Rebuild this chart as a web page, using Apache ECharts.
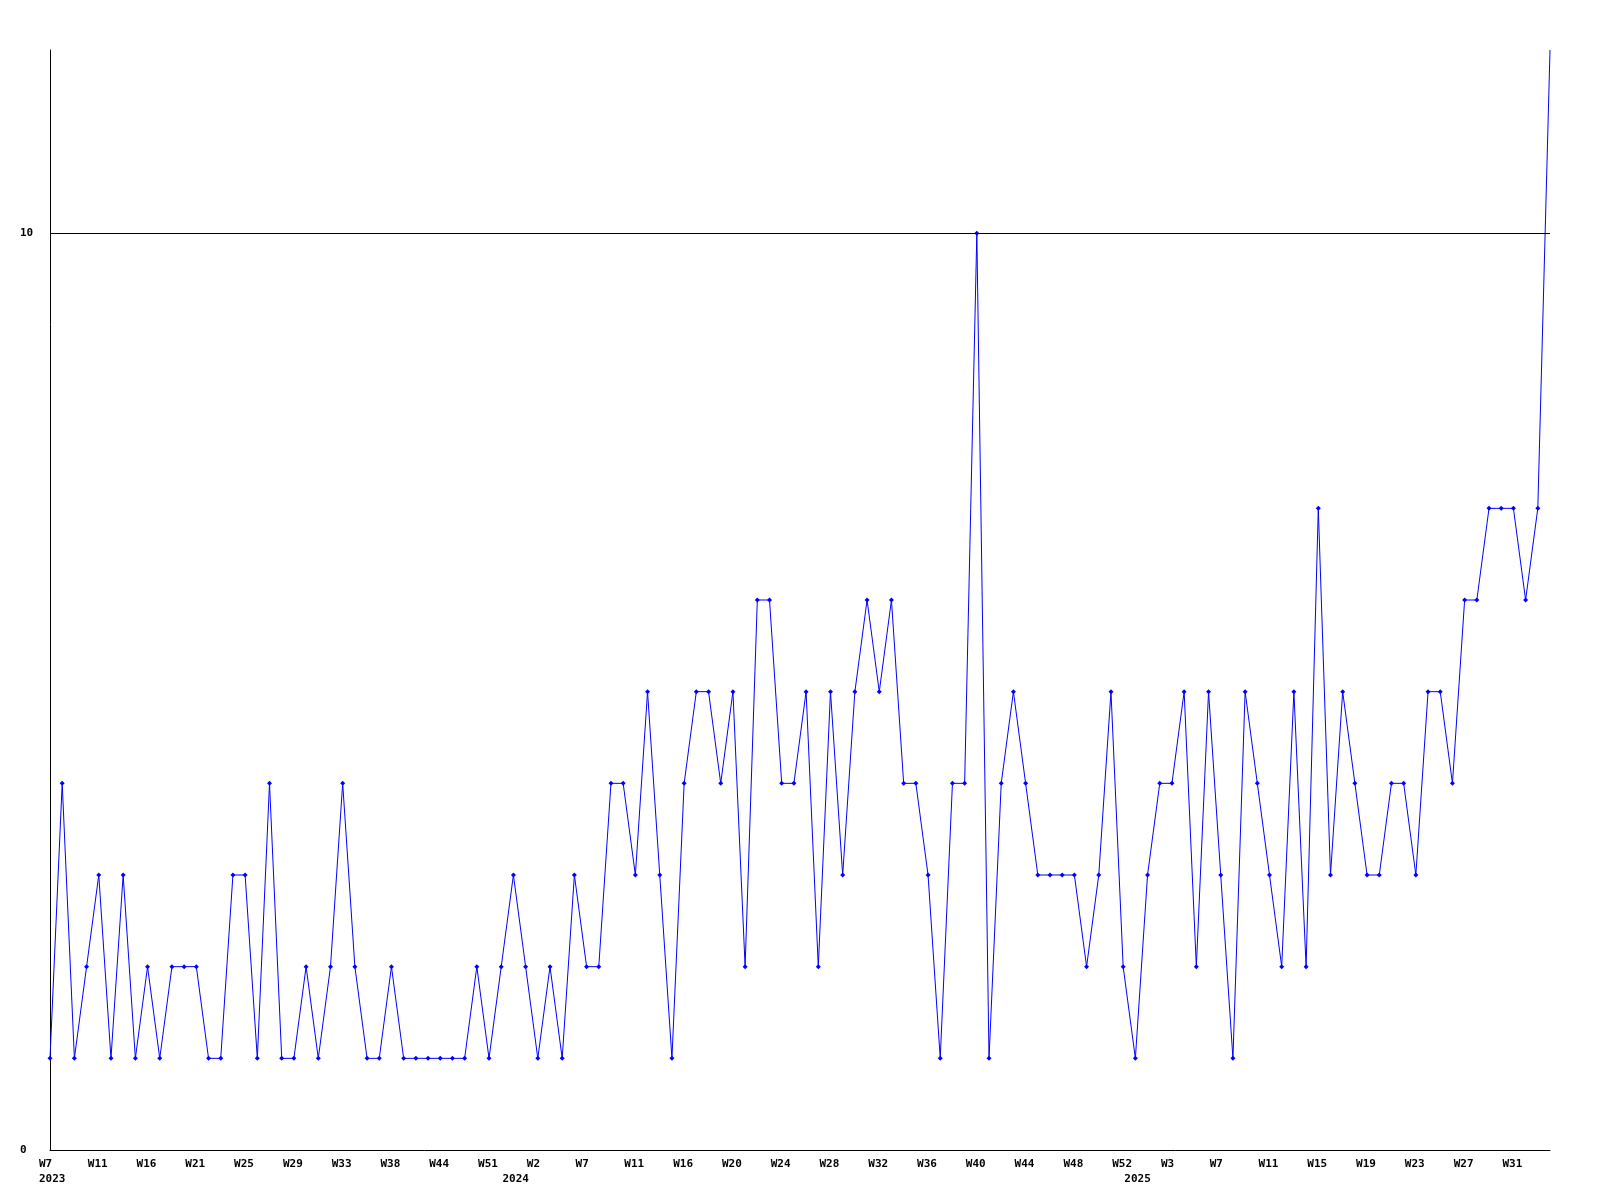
<!DOCTYPE html>
<html>
<head>
<meta charset="utf-8">
<script src="https://cdn.jsdelivr.net/npm/echarts@6/dist/echarts.min.js"></script>
<style>
html,body{margin:0;padding:0;background:#fff;}
#chart{width:1600px;height:1200px;}
</style>
</head>
<body>
<div id="chart"></div>
<script>
// Week numbers present in the data, per year
const weeks2023 = [7,8,9,10,11,12,13,15,16,17,18,20,21,22,23,24,25,26,27,28,29,30,31,32,33,34,35,37,38,39,41,43,44,45,47,49,51,52];
const weeks2024 = [0,1,2,3,4,6,7,8,9,10,11,12,13,15,16,17,18,19,20,21,22,23,24,25,26,27,28,29,30,31,32,33,34,35,36,37,38,39,40,41,42,43,44,45,46,47,48,49,50,51,52];
const weeks2025 = [0,1,2,3,4,5,6,7,8,9,10,11,12,13,14,15,16,17,18,19,20,21,22,23,24,25,26,27,28,29,30,31,32,33,34];

// Weekly counts
const values = [
  1,4,1,2,3,1,3,1,2,1,
  2,2,2,1,1,3,3,1,4,1,
  1,2,1,2,4,2,1,1,2,1,
  1,1,1,1,1,2,1,2,3,2,
  1,2,1,3,2,2,4,4,3,5,
  3,1,4,5,5,4,5,2,6,6,
  4,4,5,2,5,3,5,6,5,6,
  4,4,3,1,4,4,10,1,4,5,
  4,3,3,3,3,2,3,5,2,1,
  3,4,4,5,2,5,3,1,5,4,
  3,2,5,2,7,3,5,4,3,3,
  4,4,3,5,5,4,6,6,7,7,
  7,6,7,12
];

const yTicks = [0, 10];
const refLine = 10;

const categories = [];
weeks2023.forEach(w => categories.push('2023-W' + w));
weeks2024.forEach(w => categories.push('2024-W' + w));
weeks2025.forEach(w => categories.push('2025-W' + w));

function yearOf(i){ return categories[i].split('-')[0]; }
function weekOf(i){ return categories[i].split('-')[1]; }
function isYearStart(i){ return i === 0 || yearOf(i) !== yearOf(i - 1); }

const chart = echarts.init(document.getElementById('chart'), null, {renderer: 'canvas'});
chart.setOption({
  animation: false,
  backgroundColor: '#ffffff',
  grid: {left: 50, right: 50, top: 50, bottom: 50, containLabel: false},
  xAxis: {
    type: 'category',
    data: categories,
    boundaryGap: false,
    axisLine: {show: true, lineStyle: {color: '#000', width: 1}},
    axisTick: {show: false},
    splitLine: {show: false},
    axisLabel: {
      interval: function(i){ return i % 4 === 0 || isYearStart(i); },
      formatter: function(v, i){
        const wk = (i % 4 === 0) ? weekOf(i) : '';
        const yr = isYearStart(i) ? yearOf(i) : '';
        return yr ? (wk + '\n' + yr) : wk;
      },
      align: 'left',
      padding: [0, 0, 0, -11],
      margin: 7,
      lineHeight: 15,
      fontFamily: 'DejaVu Sans Mono',
      fontWeight: 'bold',
      fontSize: 11,
      color: '#000'
    }
  },
  yAxis: {
    type: 'value',
    min: 0,
    max: 12,
    interval: 10,
    axisLine: {show: true, lineStyle: {color: '#000', width: 1}},
    axisTick: {show: false},
    splitLine: {show: false},
    axisLabel: {
      formatter: function(v){ return yTicks.indexOf(v) >= 0 ? String(v) : ''; },
      align: 'left',
      margin: 30,
      fontFamily: 'DejaVu Sans Mono',
      fontWeight: 'bold',
      fontSize: 11,
      color: '#000'
    }
  },
  series: [{
    type: 'line',
    data: values,
    symbol: function(v, p){ return p.dataIndex === values.length - 1 ? 'none' : 'diamond'; },
    symbolSize: 5,
    showAllSymbol: true,
    lineStyle: {color: '#0000ff', width: 1},
    itemStyle: {color: '#0000ff'},
    markLine: {
      silent: true,
      symbol: 'none',
      label: {show: false},
      lineStyle: {color: '#000', width: 1, type: 'solid'},
      data: [{yAxis: refLine}]
    }
  }]
});
</script>
</body>
</html>
